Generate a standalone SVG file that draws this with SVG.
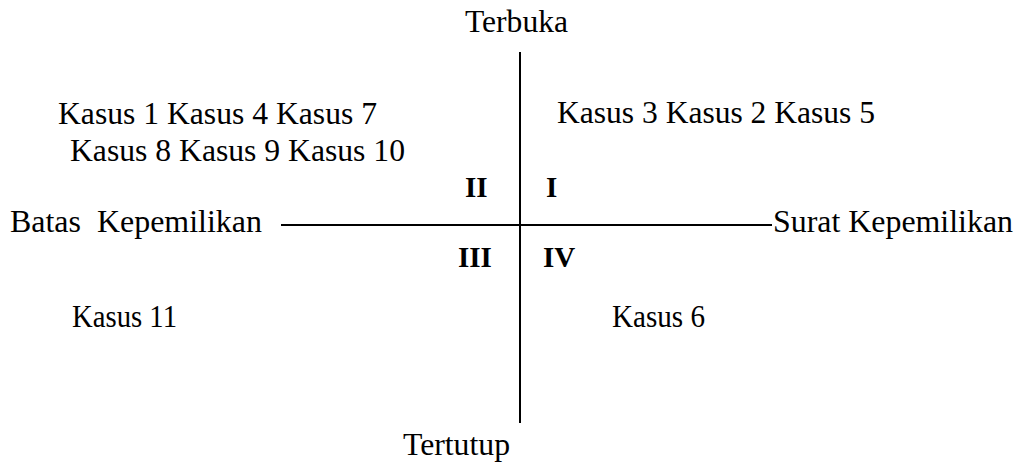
<svg xmlns="http://www.w3.org/2000/svg" width="1019" height="463" viewBox="0 0 1019 463">
<style>
text{font-family:"Liberation Serif","Times New Roman",serif;font-size:31px;fill:#000}
.b{font-weight:bold;font-size:29px}
line{stroke:#000;stroke-width:2}
</style>
<rect width="1019" height="463" fill="#fff"/>
<g id="connectors">
<line x1="520" y1="52" x2="520" y2="423"/>
<line x1="281" y1="225" x2="772" y2="225"/>
</g>
<g id="axis-top"><text x="465" y="32" textLength="103" lengthAdjust="spacingAndGlyphs">Terbuka</text></g>
<g id="axis-bottom"><text x="403" y="455" textLength="107" lengthAdjust="spacingAndGlyphs">Tertutup</text></g>
<g id="axis-left"><text x="10" y="232" textLength="252" lengthAdjust="spacingAndGlyphs" xml:space="preserve">Batas  Kepemilikan</text></g>
<g id="axis-right"><text x="773" y="232" textLength="240" lengthAdjust="spacingAndGlyphs">Surat Kepemilikan</text></g>
<g id="q2-cases">
<text x="58" y="124" textLength="319" lengthAdjust="spacingAndGlyphs">Kasus 1 Kasus 4 Kasus 7</text>
<text x="70" y="161" textLength="335" lengthAdjust="spacingAndGlyphs">Kasus 8 Kasus 9 Kasus 10</text>
</g>
<g id="q1-cases"><text x="557" y="123" textLength="318" lengthAdjust="spacingAndGlyphs">Kasus 3 Kasus 2 Kasus 5</text></g>
<g id="q3-cases"><text x="72" y="327" textLength="105" lengthAdjust="spacingAndGlyphs">Kasus 11</text></g>
<g id="q4-cases"><text x="612" y="327" textLength="93" lengthAdjust="spacingAndGlyphs">Kasus 6</text></g>
<g id="label-II"><text class="b" x="465" y="197">II</text></g>
<g id="label-I"><text class="b" x="546" y="197">I</text></g>
<g id="label-III"><text class="b" x="458" y="267">III</text></g>
<g id="label-IV"><text class="b" x="543" y="267">IV</text></g>
</svg>
